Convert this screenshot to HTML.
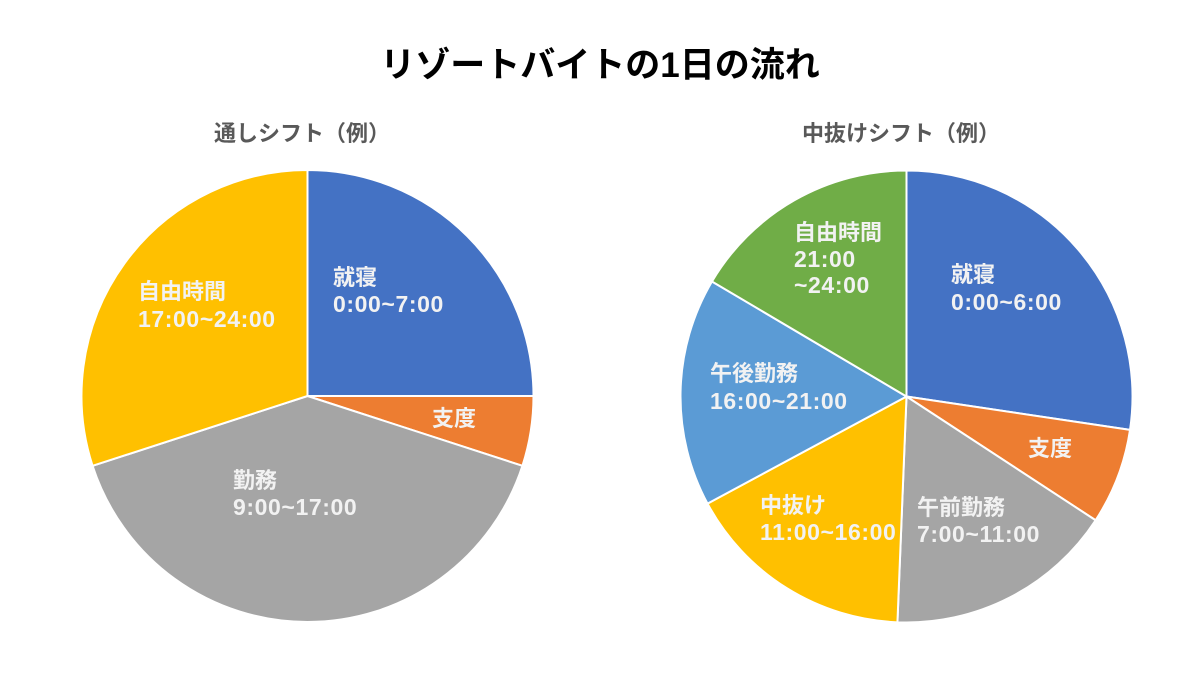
<!DOCTYPE html>
<html lang="ja">
<head>
<meta charset="utf-8">
<style>
  html, body { margin: 0; padding: 0; background: #ffffff; }
  body { width: 1200px; height: 675px; overflow: hidden; }
  svg { display: block; }
  .title { font-family: "Liberation Sans", "Noto Sans CJK JP", sans-serif; font-weight: bold; font-size: 35px; fill: #000000; }
  .sub { font-family: "Liberation Sans", "Noto Sans CJK JP", sans-serif; font-weight: bold; font-size: 22px; fill: #595959; }
  .lbl { font-family: "Liberation Sans", "Noto Sans CJK JP", sans-serif; font-weight: bold; font-size: 22px; fill: #f2f2f2; }
  .num { font-family: "Liberation Sans", "Noto Sans CJK JP", sans-serif; font-weight: bold; font-size: 23px; letter-spacing: 0.6px; fill: #f2f2f2; }
  .slice { stroke: #ffffff; stroke-width: 2; stroke-linejoin: round; }
</style>
</head>
<body>
<svg width="1200" height="675" viewBox="0 0 1200 675" xmlns="http://www.w3.org/2000/svg">
  <rect x="0" y="0" width="1200" height="675" fill="#ffffff"/>

  <text class="title" x="600" y="77" text-anchor="middle">リゾートバイトの1日の流れ</text>

  <text class="sub" x="214" y="141">通しシフト（例）</text>
  <text class="sub" x="802" y="141">中抜けシフト（例）</text>

  <!-- Left pie: center (307.5,396), r=226 -->
  <path class="slice" fill="#4472C4" d="M307.5,396 L307.5,170 A226,226 0 0 1 533.5,396 Z"/>
  <path class="slice" fill="#ED7D31" d="M307.5,396 L533.5,396 A226,226 0 0 1 522.44,465.84 Z"/>
  <path class="slice" fill="#A5A5A5" d="M307.5,396 L522.44,465.84 A226,226 0 0 1 92.56,465.84 Z"/>
  <path class="slice" fill="#FFC000" d="M307.5,396 L92.56,465.84 A226,226 0 0 1 307.5,170 Z"/>

  <text class="lbl" x="333" y="285">就寝</text>
  <text class="num" x="333" y="312">0:00~7:00</text>
  <text class="lbl" x="138" y="299">自由時間</text>
  <text class="num" x="138" y="327">17:00~24:00</text>
  <text class="lbl" x="432" y="426">支度</text>
  <text class="lbl" x="233" y="488">勤務</text>
  <text class="num" x="233" y="515">9:00~17:00</text>

  <!-- Right pie: center (906.5,396.5), r=226 -->
  <path class="slice" fill="#4472C4" d="M906.5,396.5 L906.5,170.5 A226,226 0 0 1 1130.02,429.9 Z"/>
  <path class="slice" fill="#ED7D31" d="M906.5,396.5 L1130.02,429.9 A226,226 0 0 1 1095.61,520.25 Z"/>
  <path class="slice" fill="#A5A5A5" d="M906.5,396.5 L1095.61,520.25 A226,226 0 0 1 897.43,622.32 Z"/>
  <path class="slice" fill="#FFC000" d="M906.5,396.5 L897.43,622.32 A226,226 0 0 1 707.51,503.64 Z"/>
  <path class="slice" fill="#5B9BD5" d="M906.5,396.5 L707.51,503.64 A226,226 0 0 1 711.97,281.46 Z"/>
  <path class="slice" fill="#70AD47" d="M906.5,396.5 L711.97,281.46 A226,226 0 0 1 906.5,170.5 Z"/>

  <text class="lbl" x="951" y="282">就寝</text>
  <text class="num" x="951" y="310">0:00~6:00</text>
  <text class="lbl" x="1028" y="456">支度</text>
  <text class="lbl" x="917" y="515">午前勤務</text>
  <text class="num" x="917" y="542">7:00~11:00</text>
  <text class="lbl" x="760" y="513">中抜け</text>
  <text class="num" x="760" y="540">11:00~16:00</text>
  <text class="lbl" x="710" y="381">午後勤務</text>
  <text class="num" x="710" y="409">16:00~21:00</text>
  <text class="lbl" x="794" y="240">自由時間</text>
  <text class="num" x="794" y="267">21:00</text>
  <text class="num" x="794" y="293">~24:00</text>
</svg>
</body>
</html>
